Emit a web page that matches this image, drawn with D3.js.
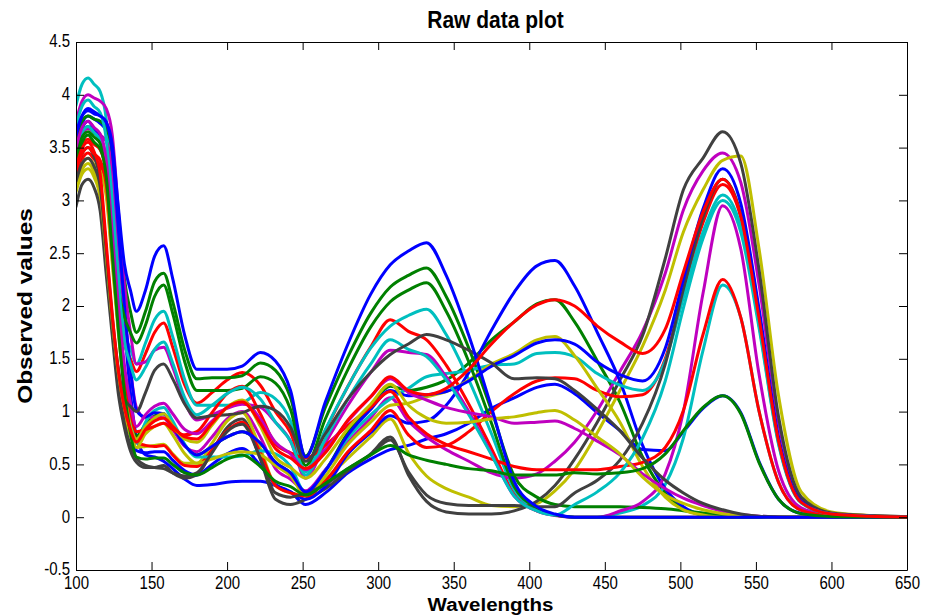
<!DOCTYPE html>
<html>
<head>
<meta charset="utf-8">
<script src="https://cdn.jsdelivr.net/npm/d3@7"></script>
<style>
  body { margin: 0; background: #fff; }
  svg { display: block; }
  text { font-family: "Liberation Sans", Arial, Helvetica, sans-serif; fill: #000; }
</style>
</head>
<body>
<svg id="chart" width="925" height="615"></svg>
<script>
// Sample wavelengths shared by every spectrum
const wavelengths = [100,104,108,112,116,120,124,128,132,136,
  140,146,152,158,164,172,180,190,200,210,
  222,232,242,252,265,280,295,308,320,332,
  345,360,375,390,405,417,430,445,460,475,
  490,502,515,528,540,552,565,580,600,625,650];

// Line colours, cycled in plotting order
const colorOrder = ["#0000ff", "#008000", "#ff0000", "#00bfbf", "#bf00bf", "#bfbf00", "#404040"];

// Observed spectra, one array per sample
const s01 = [3.52,3.73,3.80,3.77,3.73,3.66,3.38,2.60,1.82,1.18, 0.76,0.59,0.57,0.53,0.46,0.36,0.30,0.31,0.33,0.34, 0.34,0.30,0.24,0.12,0.23,0.42,0.55,0.64,0.68,0.74, 0.79,0.89,1.03,1.13,1.23,1.26,1.17,0.99,0.82,0.64, 0.63,0.81,1.03,1.15,0.99,0.53,0.17,0.035,0.007,0.002,0];
const s02 = [3.45,3.64,3.70,3.64,3.58,3.32,2.63,1.93,1.37,0.99, 0.77,0.88,0.96,0.98,0.86,0.68,0.59,0.67,0.76,0.81, 0.70,0.52,0.42,0.24,0.44,0.80,1.05,1.24,1.20,1.23, 1.30,1.46,1.68,1.85,2.02,2.06,1.85,1.48,1.09,0.57, 0.23,0.08,0.02,0,0,0,0,0,0,0,0];
const s03 = [3.37,3.53,3.58,3.53,3.48,3.27,2.69,2.12,1.65,1.50, 1.38,1.55,1.75,1.84,1.61,1.25,1.08,1.18,1.30,1.37, 1.25,1.00,0.80,0.44,0.82,1.24,1.61,1.87,1.76,1.68, 1.44,1.07,0.65,0.22,0.06,0.02,0,0,0,0, 0,0,0,0,0,0,0,0,0,0,0];
const s04 = [3.90,4.10,4.16,4.10,4.03,3.77,3.05,2.33,1.74,1.60, 1.45,1.65,1.87,1.95,1.71,1.30,1.06,1.06,1.06,1.08, 1.18,1.12,0.91,0.43,0.83,1.24,1.60,1.81,1.91,1.97, 1.73,1.30,0.79,0.26,0.08,0.02,0,0,0.04,0.11, 0.31,0.75,1.58,2.20,1.89,1.01,0.33,0.066,0.013,0.004,0];
const s05 = [3.43,3.62,3.68,3.65,3.62,3.56,3.31,2.64,1.96,1.41, 1.04,0.94,0.95,0.94,0.83,0.67,0.62,0.76,0.93,1.00, 0.76,0.46,0.36,0.25,0.45,0.71,0.94,1.13,0.91,0.76, 0.64,0.53,0.42,0.37,0.41,0.53,0.71,1.01,1.38,1.76, 2.31,2.91,3.28,3.45,3.17,2.21,0.90,0.17,0.04,0.014,0.003];
const s06 = [3.08,3.25,3.30,3.22,3.02,2.42,1.79,1.29,0.96,0.77, 0.66,0.67,0.68,0.69,0.60,0.51,0.51,0.70,0.91,0.99, 0.65,0.30,0.23,0.21,0.36,0.56,0.76,0.93,0.61,0.39, 0.27,0.19,0.11,0.10,0.13,0.25,0.45,0.80,1.20,1.62, 2.15,2.70,3.10,3.38,3.42,2.55,1.15,0.24,0.05,0.016,0.004];
const s07 = [2.94,3.15,3.20,3.12,2.90,2.30,1.72,1.17,0.85,0.63, 0.52,0.47,0.47,0.49,0.42,0.37,0.40,0.62,0.85,0.93, 0.55,0.17,0.12,0.17,0.27,0.44,0.60,0.76,0.40,0.15, 0.05,0.03,0.03,0.06,0.15,0.30,0.55,0.90,1.30,1.72, 2.45,3.10,3.40,3.65,3.35,2.35,0.95,0.19,0.04,0.015,0.005];
const s08 = [3.48,3.68,3.75,3.68,3.62,3.35,2.61,1.87,1.27,0.87, 0.63,0.61,0.62,0.62,0.54,0.44,0.40,0.50,0.60,0.65, 0.49,0.31,0.24,0.17,0.29,0.60,0.80,0.96,0.89,0.91, 1.06,1.37,1.77,2.13,2.38,2.43,2.19,1.75,1.29,0.68, 0.27,0.10,0.02,0,0,0,0,0,0,0,0];
const s09 = [3.58,3.75,3.80,3.77,3.75,3.69,3.47,2.87,2.26,1.95, 1.75,1.95,2.23,2.31,2.04,1.58,1.31,1.32,1.32,1.34, 1.46,1.39,1.13,0.58,1.04,1.52,1.93,2.18,2.29,2.36, 2.09,1.60,1.01,0.39,0.19,0.12,0.10,0.10,0.098,0.092, 0.08,0.062,0.04,0.022,0.01,0.004,0.001,0,0,0,0];
const s10 = [3.22,3.39,3.45,3.39,3.33,3.10,2.45,1.80,1.27,0.92, 0.71,0.68,0.67,0.68,0.59,0.49,0.48,0.64,0.82,0.90, 0.61,0.30,0.23,0.20,0.34,0.62,0.82,1.01,0.78,0.66, 0.68,0.81,1.00,1.17,1.29,1.32,1.31,1.20,1.14,1.16, 1.50,2.13,2.79,3.15,2.84,1.89,0.73,0.14,0.03,0.01,0.003];
const s11 = [3.44,3.64,3.70,3.64,3.57,3.31,2.60,1.89,1.31,0.92, 0.70,0.90,1.01,1.04,0.91,0.69,0.57,0.57,0.57,0.58, 0.63,0.60,0.48,0.23,0.44,0.75,0.97,1.12,1.22,1.33, 1.36,1.39,1.44,1.45,1.55,1.56,1.52,1.36,1.25,1.20, 1.48,2.08,2.70,3.05,2.75,1.83,0.70,0.14,0.03,0.01,0.003];
const s12 = [3.74,3.94,4.00,3.97,3.94,3.87,3.62,2.91,2.21,1.75, 1.45,1.47,1.58,1.61,1.42,1.09,0.92,0.97,1.03,1.07, 1.04,0.90,0.72,0.37,0.70,1.06,1.37,1.58,1.56,1.54, 1.33,1.00,0.60,0.20,0.06,0.015,0,0,0.059,0.148, 0.41,1.00,2.12,2.95,2.54,1.36,0.44,0.089,0.018,0.006,0];
const s13 = [3.16,3.34,3.40,3.34,3.28,3.04,2.40,1.75,1.22,0.86, 0.66,0.79,0.86,0.89,0.78,0.60,0.51,0.55,0.60,0.62, 0.59,0.49,0.39,0.21,0.39,0.69,0.90,1.06,1.08,1.14, 1.19,1.30,1.45,1.55,1.68,1.71,1.53,1.22,0.90,0.48, 0.19,0.07,0.02,0,0,0,0,0,0,0,0];
const s14 = [3.25,3.44,3.50,3.41,3.19,2.52,1.81,1.26,0.89,0.68, 0.56,0.49,0.47,0.46,0.42,0.39,0.42,0.61,0.81,0.88, 0.56,0.23,0.19,0.23,0.31,0.46,0.59,0.73,0.43,0.21, 0.13,0.11,0.11,0.11,0.10,0.10,0.23,0.35,0.54,0.89, 1.45,2.16,2.84,3.20,2.87,1.91,0.73,0.14,0.03,0.01,0.003];
const s15 = [3.61,3.80,3.87,3.84,3.80,3.74,3.47,2.74,2.01,1.41, 1.01,0.95,0.99,0.98,0.86,0.68,0.59,0.67,0.76,0.81, 0.70,0.52,0.42,0.24,0.44,0.78,1.02,1.20,1.15,1.16, 1.19,1.29,1.43,1.53,1.65,1.68,1.64,1.47,1.35,1.29, 1.60,2.25,2.92,3.30,2.97,1.98,0.76,0.15,0.03,0.01,0.003];
const s16 = [3.44,3.60,3.65,3.60,3.54,3.33,2.75,2.17,1.90,1.75, 1.65,1.82,2.09,2.20,1.93,1.47,1.20,1.20,1.20,1.22, 1.33,1.27,1.02,0.49,0.93,1.40,1.80,2.04,2.15,2.22, 1.95,1.47,0.89,0.29,0.09,0.02,0,0,0,0, 0,0,0,0,0,0,0,0,0,0,0];
const s17 = [3.27,3.44,3.50,3.44,3.38,3.15,2.52,1.88,1.36,1.01, 0.81,0.83,0.86,0.89,0.83,0.78,0.81,0.99,1.17,1.24, 0.98,0.69,0.61,0.56,0.68,0.87,1.04,1.19,0.95,0.79, 0.69,0.62,0.55,0.48,0.45,0.45,0.45,0.45,0.48,0.52, 0.66,1.01,1.73,2.25,1.89,1.01,0.33,0.065,0.013,0.004,0];
const s18 = [3.70,3.89,3.95,3.89,3.83,3.58,2.90,2.23,1.67,1.45, 1.30,1.42,1.59,1.66,1.46,1.13,0.97,1.06,1.17,1.23, 1.12,0.90,0.72,0.40,0.74,1.12,1.45,1.68,1.59,1.52, 1.30,0.97,0.59,0.20,0.06,0.02,0.12,0.24,0.42,0.75, 1.29,1.98,2.64,3.00,2.70,1.80,0.69,0.135,0.03,0.009,0.003];
const s19 = [3.50,3.69,3.75,3.69,3.63,3.38,2.69,2.01,1.45,1.08, 0.86,0.97,1.05,1.08,0.98,0.83,0.79,0.91,1.04,1.10, 0.93,0.71,0.60,0.45,0.64,0.91,1.14,1.31,1.18,1.11, 1.04,0.99,0.95,0.89,0.90,0.91,0.84,0.72,0.59,0.41, 0.27,0.18,0.11,0.055,0.025,0.01,0.003,0,0,0,0];
const s20 = [3.13,3.29,3.35,3.27,3.08,2.48,1.86,1.37,1.04,0.85, 0.74,0.86,0.94,0.98,0.87,0.74,0.71,0.87,1.04,1.11, 0.86,0.57,0.47,0.37,0.55,0.84,1.07,1.26,1.06,0.94, 0.89,0.90,0.93,0.95,0.99,1.01,0.92,0.76,0.60,0.38, 0.21,0.13,0.07,0.033,0.015,0.006,0.002,0,0,0,0];
const s21 = [3.18,3.35,3.40,3.32,3.13,2.53,1.90,1.41,1.12,1.05, 1.00,1.18,1.39,1.45,1.31,1.07,0.94,0.96,0.97,0.99, 1.05,1.01,0.85,0.53,0.79,1.12,1.37,1.54,1.64,1.73, 1.68,1.58,1.46,1.31,1.32,1.31,1.20,1.02,0.82,0.56, 0.35,0.23,0.13,0.07,0.03,0.01,0.003,0,0,0,0];
const s22 = [3.64,3.80,3.85,3.82,3.80,3.74,3.53,2.94,2.40,2.15, 1.95,2.15,2.47,2.57,2.26,1.72,1.40,1.40,1.40,1.43, 1.56,1.48,1.20,0.57,1.09,1.64,2.11,2.39,2.52,2.60, 2.29,1.72,1.04,0.34,0.10,0.03,0,0,0,0, 0,0,0,0,0,0,0,0,0,0,0];
const s23 = [3.36,3.55,3.62,3.55,3.49,3.23,2.50,1.78,1.19,0.80, 0.57,0.55,0.56,0.56,0.50,0.42,0.40,0.47,0.55,0.59, 0.48,0.34,0.29,0.21,0.32,0.46,0.59,0.68,0.59,0.54, 0.50,0.46,0.44,0.40,0.40,0.40,0.42,0.41,0.42,0.46, 0.60,0.82,1.04,1.15,0.98,0.52,0.17,0.034,0.007,0.002,0];
const s24 = [3.31,3.49,3.55,3.46,3.25,2.60,1.92,1.39,1.04,0.83, 0.71,0.83,0.91,0.94,0.86,0.76,0.74,0.89,1.04,1.09, 0.89,0.65,0.56,0.46,0.61,0.92,1.14,1.33,1.20,1.16, 1.22,1.40,1.64,1.85,2.01,2.06,2.00,1.81,1.66,1.55, 1.78,2.32,2.89,3.20,2.85,1.89,0.72,0.14,0.03,0.01,0.003];

const spectra = [s01,s02,s03,s04,s05,s06,s07,s08,s09,s10,s11,s12,
                 s13,s14,s15,s16,s17,s18,s19,s20,s21,s22,s23,s24];

const xTicks = [100,150,200,250,300,350,400,450,500,550,600,650];
const yTicks = [-0.5,0,0.5,1,1.5,2,2.5,3,3.5,4,4.5];

const titleText = "Raw data plot";
const xLabelText = "Wavelengths";
const yLabelText = "Observed values";

// ---- layout ----
const plot = { left: 76, right: 907, top: 42, bottom: 570 };
const stretch = 1.165;   // glyphs are taller than they are wide in this figure
const tickLen = 8;

const svg = d3.select("#chart");

const x = d3.scaleLinear().domain([100, 650]).range([plot.left, plot.right]);
const y = d3.scaleLinear().domain([-0.5, 4.5]).range([plot.bottom, plot.top]);

svg.append("rect").attr("width", 925).attr("height", 615).attr("fill", "#fff");

svg.append("defs").append("clipPath").attr("id", "plotClip")
  .append("rect")
  .attr("x", plot.left).attr("y", plot.top)
  .attr("width", plot.right - plot.left).attr("height", plot.bottom - plot.top);

// ---- spectra ----
const line = d3.line()
  .x((d, i) => x(wavelengths[i]))
  .y(d => y(d))
  .curve(d3.curveMonotoneX);

svg.append("g").attr("clip-path", "url(#plotClip)")
  .selectAll("path")
  .data(spectra)
  .join("path")
  .attr("d", line)
  .attr("fill", "none")
  .attr("stroke", (d, i) => colorOrder[i % colorOrder.length])
  .attr("stroke-width", 3)
  .attr("stroke-linejoin", "round")
  .attr("stroke-linecap", "round");

// ---- axes (inward ticks on all four sides) ----
function styleAxis(g) {
  g.selectAll(".domain").attr("stroke", "#000").attr("stroke-width", 1);
  g.selectAll(".tick line").attr("stroke", "#000").attr("stroke-width", 1);
}

const gx = svg.append("g")
  .attr("transform", `translate(0,${plot.bottom})`)
  .call(d3.axisBottom(x).tickValues(xTicks).tickSizeInner(-tickLen).tickSizeOuter(0)
    .tickFormat(d => String(d)))
  .call(styleAxis);
gx.selectAll(".tick text")
  .attr("y", 0).attr("dy", "0.71em")
  .attr("font-size", 15)
  .attr("transform", `translate(0,7) scale(1,${stretch})`);

const gy = svg.append("g")
  .attr("transform", `translate(${plot.left},0)`)
  .call(d3.axisLeft(y).tickValues(yTicks).tickSizeInner(-tickLen).tickSizeOuter(0)
    .tickFormat(d => String(d)))
  .call(styleAxis);
gy.selectAll(".tick text")
  .attr("x", 0).attr("dy", "0.34em")
  .attr("font-size", 15)
  .attr("transform", `translate(-6,-1) scale(1,${stretch})`);

svg.append("g")
  .attr("transform", `translate(0,${plot.top})`)
  .call(d3.axisTop(x).tickValues(xTicks).tickSizeInner(-tickLen).tickSizeOuter(0).tickFormat(""))
  .call(styleAxis);

svg.append("g")
  .attr("transform", `translate(${plot.right},0)`)
  .call(d3.axisRight(y).tickValues(yTicks).tickSizeInner(-tickLen).tickSizeOuter(0).tickFormat(""))
  .call(styleAxis);

// ---- title and axis labels ----
const cx = (plot.left + plot.right) / 2;

svg.append("text")
  .attr("transform", `translate(${cx + 4},28) scale(1,${stretch})`)
  .attr("text-anchor", "middle")
  .attr("font-size", 21).attr("font-weight", "bold")
  .text(titleText);

svg.append("text")
  .attr("transform", `translate(${cx - 1},610.8) scale(1.08,1)`)
  .attr("text-anchor", "middle")
  .attr("font-size", 19).attr("font-weight", "bold")
  .text(xLabelText);

svg.append("text")
  .attr("transform", `translate(32,${(plot.top + plot.bottom) / 2}) rotate(-90) scale(${stretch},1)`)
  .attr("text-anchor", "middle")
  .attr("font-size", 21).attr("font-weight", "bold")
  .text(yLabelText);
</script>
</body>
</html>
